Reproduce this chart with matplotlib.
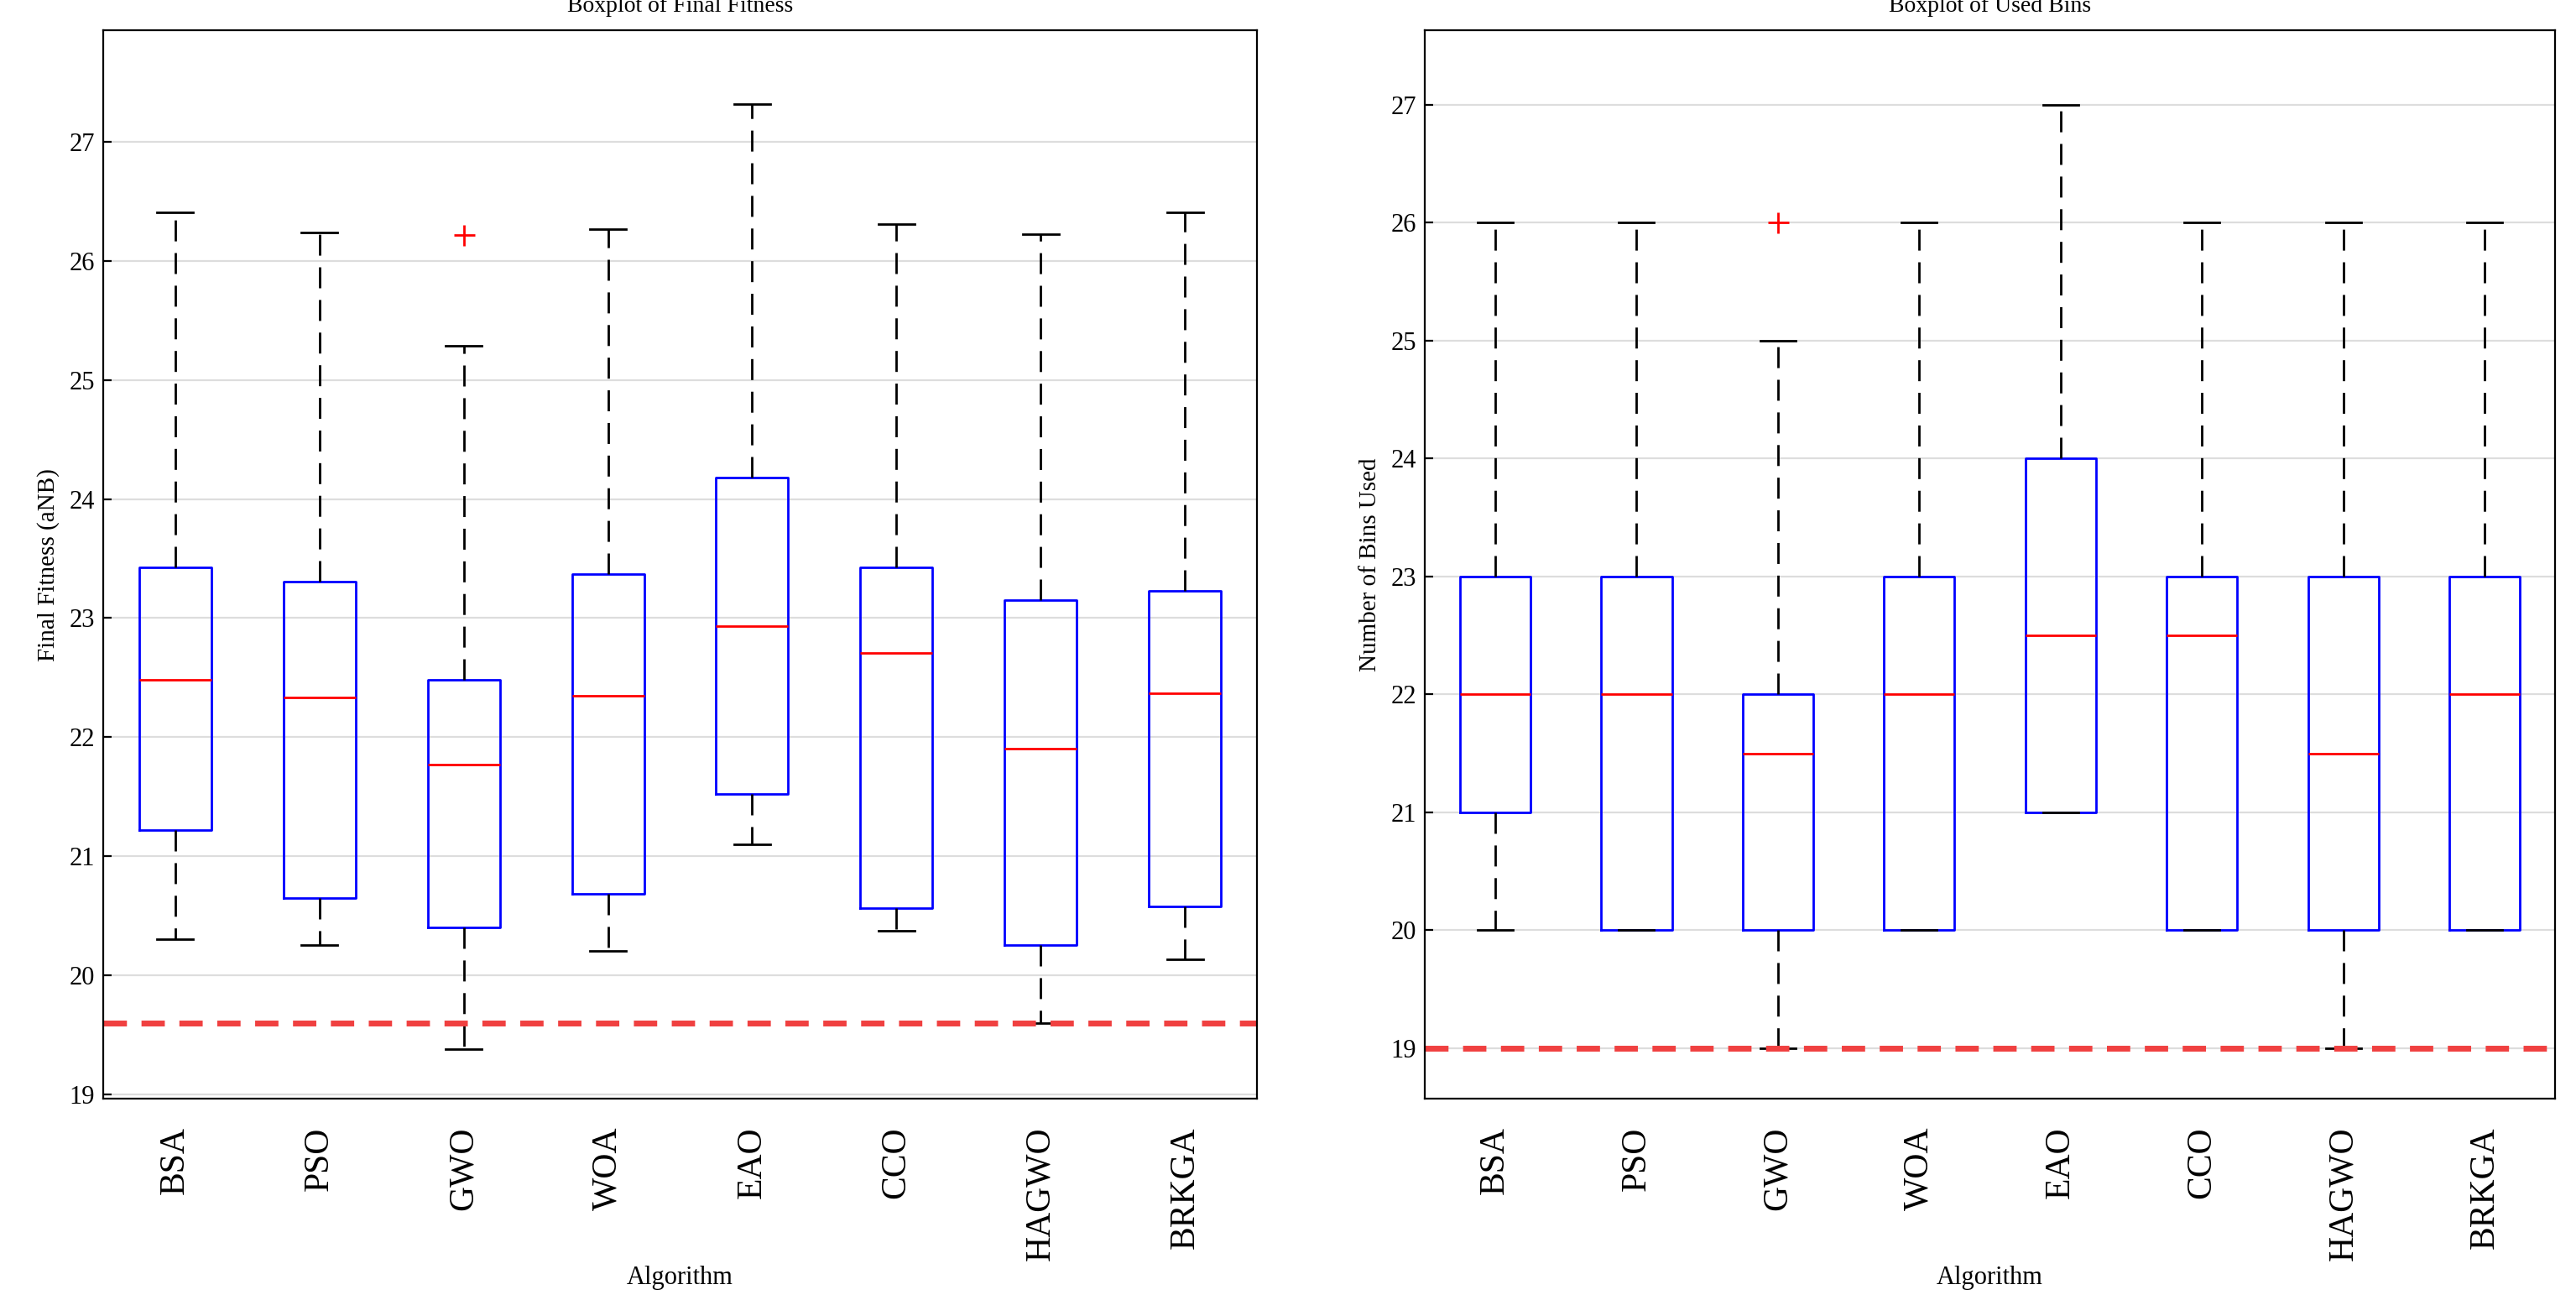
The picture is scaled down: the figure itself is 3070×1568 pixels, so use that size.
import matplotlib.pyplot as plt

plt.rcParams['font.family'] = ['Liberation Serif', 'DejaVu Serif']

algorithms = ['BSA', 'PSO', 'GWO', 'WOA', 'EAO', 'CCO', 'HAGWO', 'BRKGA']

# final fitness: low whisker, q1, median, q3, high whisker
fit_lo = [20.30, 20.25, 19.38, 20.20, 21.10, 20.37, 19.60, 20.13]
fit_q1 = [21.22, 20.65, 20.40, 20.68, 21.52, 20.56, 20.25, 20.58]
fit_med = [22.48, 22.33, 21.77, 22.35, 22.93, 22.71, 21.90, 22.37]
fit_q3 = [23.43, 23.31, 22.48, 23.37, 24.18, 23.43, 23.15, 23.23]
fit_hi = [26.41, 26.24, 25.29, 26.27, 27.32, 26.31, 26.23, 26.41]
fit_out = [[], [], [26.22], [], [], [], [], []]
fit_ref = 19.6

bins_lo = [20, 20, 19, 20, 21, 20, 19, 20]
bins_q1 = [21, 20, 20, 20, 21, 20, 20, 20]
bins_med = [22, 22, 21.5, 22, 22.5, 22.5, 21.5, 22]
bins_q3 = [23, 23, 22, 23, 24, 23, 23, 23]
bins_hi = [26, 26, 25, 26, 27, 26, 26, 26]
bins_out = [[], [], [26], [], [], [], [], []]
bins_ref = 19


def draw(ax, lo, q1, med, q3, hi, out, ref, title, ylabel, ylim):
    stats = [dict(whislo=a, q1=b, med=c, q3=d, whishi=e, fliers=f, label=n)
             for a, b, c, d, e, f, n in zip(lo, q1, med, q3, hi, out, algorithms)]
    ax.bxp(stats, widths=0.5, showfliers=True,
           boxprops=dict(color='blue', linewidth=1.0),
           medianprops=dict(color='red', linewidth=1.0),
           whiskerprops=dict(color='black', linestyle=(0, (9, 5)), linewidth=1.0),
           capprops=dict(color='black', linewidth=1.0),
           flierprops=dict(marker='+', markeredgecolor='red', markersize=9))
    ax.axhline(ref, color='#f04040', linestyle='--', linewidth=2.5, dashes=(4, 2.5))
    ax.set_ylim(*ylim)
    ax.set_xlim(0.5, 8.5)
    ax.yaxis.grid(True, color='#dddddd', linewidth=0.8)
    ax.set_axisbelow(True)
    ax.set_title(title, fontsize=10, pad=8)
    ax.set_ylabel(ylabel, fontsize=10.5)
    ax.set_xlabel('Algorithm', fontsize=11, labelpad=2)
    ax.tick_params(axis='x', labelrotation=90, labelsize=15, length=0, pad=12)
    ax.tick_params(axis='y', labelsize=11, direction='in')
    ax.set_yticks(range(19, 28))


fig = plt.figure(figsize=(15.35, 7.84), dpi=200)
ax1 = fig.add_axes([0.040, 0.165, 0.448, 0.812])
ax2 = fig.add_axes([0.553, 0.165, 0.439, 0.812])
draw(ax1, fit_lo, fit_q1, fit_med, fit_q3, fit_hi, fit_out, fit_ref,
     'Boxplot of Final Fitness', 'Final Fitness (aNB)', (18.96, 27.94))
draw(ax2, bins_lo, bins_q1, bins_med, bins_q3, bins_hi, bins_out, bins_ref,
     'Boxplot of Used Bins', 'Number of Bins Used', (18.57, 27.63))
fig.savefig('out.png', dpi=200)
